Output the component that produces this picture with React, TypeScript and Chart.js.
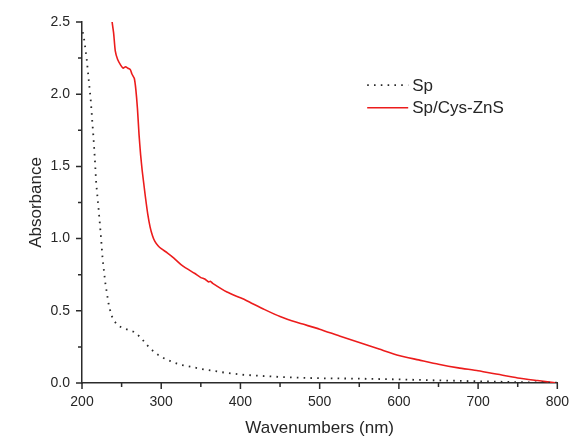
import React, { useEffect, useRef } from 'react';
import { Chart, registerables } from 'chart.js';

Chart.register(...registerables);

// Sp (dotted black)
const spWavelength = [201, 203, 206, 209, 211, 213, 214.5, 216, 218, 221, 224, 226, 229.5, 233.5, 237, 240.5, 245, 250, 255, 260, 265, 270, 275, 280, 286, 291, 296, 304, 313, 325, 337, 350, 362, 380, 403, 430, 453, 480, 500, 550, 600, 650, 700, 750, 800];
const spAbsorbance = [2.43, 2.37, 2.24, 2.07, 1.96, 1.81, 1.70, 1.57, 1.38, 1.20, 1.01, 0.86, 0.69, 0.55, 0.47, 0.43, 0.40, 0.385, 0.375, 0.365, 0.355, 0.335, 0.31, 0.275, 0.24, 0.215, 0.195, 0.17, 0.148, 0.125, 0.113, 0.098, 0.087, 0.072, 0.057, 0.048, 0.041, 0.036, 0.033, 0.03, 0.025, 0.018, 0.012, 0.006, 0.002];

// Sp/Cys-ZnS (red)
const znsWavelength = [238, 240, 242, 245, 249, 252, 255, 258, 261, 263, 266, 268, 270, 272, 274, 276, 278, 280, 283, 286, 289, 292, 296, 300, 308, 316, 325, 333, 342, 350, 355, 360, 362, 365, 383, 400, 408, 430, 450, 471, 500, 525, 550, 575, 600, 625, 650, 675, 700, 725, 750, 775, 800];
const znsAbsorbance = [2.50, 2.42, 2.30, 2.24, 2.20, 2.18, 2.19, 2.18, 2.17, 2.14, 2.11, 2.03, 1.90, 1.72, 1.58, 1.47, 1.38, 1.29, 1.17, 1.08, 1.02, 0.98, 0.95, 0.93, 0.90, 0.865, 0.82, 0.79, 0.76, 0.73, 0.72, 0.70, 0.705, 0.69, 0.63, 0.59, 0.57, 0.51, 0.46, 0.42, 0.373, 0.325, 0.28, 0.235, 0.19, 0.16, 0.13, 0.105, 0.085, 0.06, 0.035, 0.017, 0.0];

const seriesLabels = ['Sp', 'Sp/Cys-ZnS'];
const xTickLabels = ['200', '300', '400', '500', '600', '700', '800'];
const yTickLabels = ['0.0', '0.5', '1.0', '1.5', '2.0', '2.5'];
const xTitle = 'Wavenumbers (nm)';
const yTitle = 'Absorbance';

const FONT = '"Liberation Sans", Arial, sans-serif';
const AXIS_COLOR = '#2b2b2b';
const TEXT_COLOR = '#262626';
const RED = '#ec1c1c';

const tickPlugin = {
  id: 'customTicks',
  afterDraw(chart: any) {
    const ctx = chart.ctx;
    const xs = chart.scales.x;
    const ys = chart.scales.y;
    ctx.save();
    ctx.strokeStyle = AXIS_COLOR;
    ctx.lineWidth = 1.5;
    ctx.beginPath();
    xs.ticks.forEach((t: any) => {
      const px = xs.getPixelForValue(t.value);
      const major = Math.abs(t.value % 100) < 1e-6;
      const len = major ? 6 : 4;
      ctx.moveTo(px, xs.top);
      ctx.lineTo(px, xs.top + len);
    });
    ys.ticks.forEach((t: any) => {
      const py = ys.getPixelForValue(t.value);
      const r = Math.round(t.value * 100) % 50;
      const major = r === 0;
      const len = major ? 6 : 4;
      ctx.moveTo(ys.right, py);
      ctx.lineTo(ys.right - len, py);
    });
    ctx.stroke();
    ctx.restore();
  },
};

const legendPlugin = {
  id: 'insideLegend',
  afterDraw(chart: any) {
    const ctx = chart.ctx;
    const area = chart.chartArea;
    const x0 = area.left + 0.6 * (area.right - area.left);
    const y0 = area.top + 0.175 * (area.bottom - area.top);
    const lineLen = 41;
    const rowH = 22.5;
    ctx.save();
    chart.data.datasets.forEach((ds: any, i: number) => {
      const y = y0 + i * rowH;
      ctx.beginPath();
      ctx.strokeStyle = ds.borderColor;
      ctx.lineWidth = ds.borderWidth;
      ctx.setLineDash(ds.borderDash || []);
      ctx.moveTo(x0, y);
      ctx.lineTo(x0 + lineLen, y);
      ctx.stroke();
      ctx.setLineDash([]);
      ctx.fillStyle = TEXT_COLOR;
      ctx.font = `17px ${FONT}`;
      ctx.textBaseline = 'middle';
      ctx.textAlign = 'left';
      ctx.fillText(ds.label, x0 + lineLen + 4, y + 1);
    });
    ctx.restore();
  },
};

export default function App() {
  const canvasRef = useRef<HTMLCanvasElement | null>(null);

  useEffect(() => {
    document.body.style.margin = '0';
    const canvas = canvasRef.current;
    if (!canvas) return;
    const chart = new Chart(canvas, {
      type: 'line',
      data: {
        datasets: [
          {
            label: seriesLabels[0],
            data: spWavelength.map((x, i) => ({ x, y: spAbsorbance[i] })),
            borderColor: '#2a2a2a',
            borderWidth: 1.8,
            borderDash: [1.6, 5.2],
            borderCapStyle: 'butt',
            pointRadius: 0,
            tension: 0,
            fill: false,
          },
          {
            label: seriesLabels[1],
            data: znsWavelength.map((x, i) => ({ x, y: znsAbsorbance[i] })),
            borderColor: RED,
            borderWidth: 1.6,
            pointRadius: 0,
            tension: 0.2,
            fill: false,
          },
        ],
      },
      options: {
        animation: false,
        responsive: false,
        devicePixelRatio: 1,
        layout: { padding: { left: 0, right: 13, top: 22, bottom: 0 } },
        plugins: {
          legend: { display: false },
          tooltip: { enabled: false },
        },
        scales: {
          x: {
            type: 'linear',
            min: 200,
            max: 800,
            afterFit: (s: any) => { s.height = 56; },
            grid: { display: true, drawOnChartArea: false, drawTicks: false },
            border: { display: true, color: AXIS_COLOR, width: 1.5 },
            ticks: {
              stepSize: 50,
              autoSkip: false,
              maxRotation: 0,
              padding: 11,
              color: TEXT_COLOR,
              font: { family: FONT, size: 14 },
              callback: (v: any) => {
                const s = String(v);
                return xTickLabels.includes(s) ? s : '';
              },
            },
            title: {
              display: true,
              text: xTitle,
              color: TEXT_COLOR,
              font: { family: FONT, size: 17 },
              padding: { top: 0, bottom: 0 },
            },
          },
          y: {
            type: 'linear',
            min: 0,
            max: 2.5,
            afterFit: (s: any) => { s.width = 82; },
            grid: { display: true, drawOnChartArea: false, drawTicks: false },
            border: { display: true, color: AXIS_COLOR, width: 1.5 },
            ticks: {
              stepSize: 0.25,
              autoSkip: false,
              padding: 12,
              color: TEXT_COLOR,
              font: { family: FONT, size: 14 },
              callback: (v: any) => {
                const s = Number(v).toFixed(1);
                const isMajor = Math.round(Number(v) * 100) % 50 === 0;
                return isMajor && yTickLabels.includes(s) ? s : '';
              },
            },
            title: {
              display: true,
              text: yTitle,
              color: TEXT_COLOR,
              font: { family: FONT, size: 17 },
              padding: { top: 26, bottom: 0 },
            },
          },
        },
      },
      plugins: [tickPlugin, legendPlugin],
    });
    return () => chart.destroy();
  }, []);

  return (
    <div style={{ width: 580, height: 439, background: '#fff' }}>
      <canvas ref={canvasRef} width={580} height={439} />
    </div>
  );
}
